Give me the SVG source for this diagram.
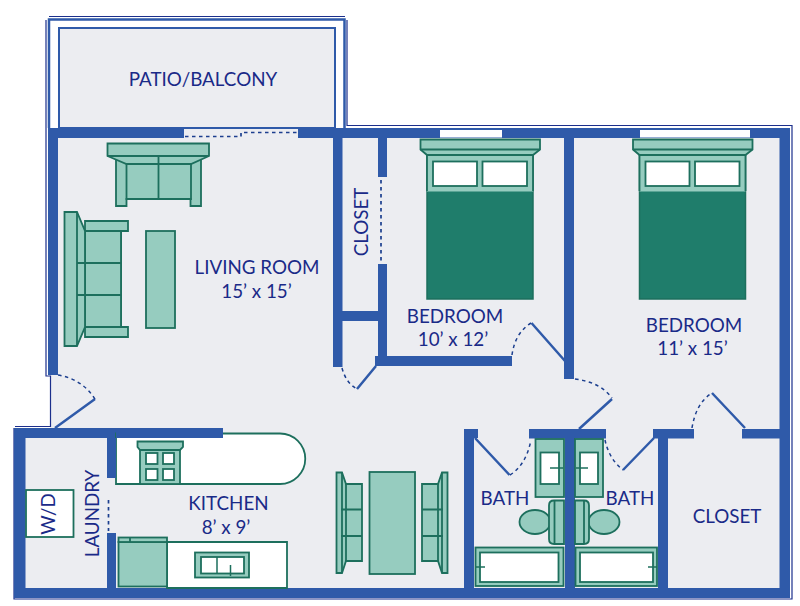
<svg xmlns="http://www.w3.org/2000/svg" width="800" height="606" viewBox="0 0 800 606">
<style>
.w{fill:#2f5aa9}
.f{fill:#96ccbf;stroke:#1d6f5d;stroke-width:1.800;stroke-linejoin:miter}
.wh{fill:#fff;stroke:#1d6f5d;stroke-width:1.800}
.l{fill:none;stroke:#1d6f5d;stroke-width:1.800}
.t{fill:none;stroke:#1c2f8c;stroke-width:1.200}
.d{fill:none;stroke:#2f5aa9;stroke-width:2.500}
.a{fill:none;stroke:#1c3f8f;stroke-width:1.500;stroke-dasharray:3.500 3.500}
text{font-family:Lato,"Open Sans","Liberation Sans",sans-serif;font-size:18.800px;fill:#1a2a88;text-anchor:middle}
</style>
<rect width="800" height="606" fill="#fff"/>
<path id="floor" d="M49 128H790V598H14V428H50V376H49Z" fill="#ecedf1"/>
<rect x="59" y="28" width="276" height="100" fill="#ecedf1" stroke="#2f5aa9" stroke-width="2"/>
<g id="outline">
<path class="t" d="M46 20V376H50.500V426.500H15M49 16.500H345M347 20V125.500H792V598M792 127V599H14V428"/>
<path d="M49 128V19.500H344.500V128" fill="none" stroke="#2f5aa9" stroke-width="2.500"/>
</g>
<g id="walls">
<rect class="w" x="48" y="128" width="136" height="10"/>
<rect class="w" x="298" y="128" width="492" height="10"/>
<rect class="w" x="48" y="128" width="10" height="247"/>
<rect class="w" x="333" y="128" width="9.500" height="239"/>
<rect class="w" x="378" y="138" width="9" height="39"/>
<rect class="w" x="378" y="264" width="9" height="94"/>
<rect class="w" x="342" y="311" width="36" height="10"/>
<rect class="w" x="375" y="356" width="137" height="10"/>
<rect class="w" x="564" y="128" width="10" height="251"/>
<rect class="w" x="779.500" y="128" width="10.500" height="470"/>
<rect class="w" x="14" y="428" width="209" height="10"/>
<rect class="w" x="14" y="428" width="11.500" height="170"/>
<rect class="w" x="14" y="588" width="776" height="10"/>
<rect class="w" x="107" y="438" width="9" height="40"/>
<rect class="w" x="107" y="533" width="9" height="57"/>
<rect class="w" x="464" y="429" width="10" height="160"/>
<rect class="w" x="464" y="429" width="14" height="9"/>
<rect class="w" x="529" y="429" width="77" height="9.500"/>
<rect class="w" x="565" y="429" width="10" height="160"/>
<rect class="w" x="653" y="429" width="41" height="9.500"/>
<rect class="w" x="658" y="429" width="10" height="160"/>
<rect class="w" x="742" y="429" width="38" height="9.500"/>
<rect x="440" y="130" width="62" height="7.500" fill="#fff"/>
<rect x="640" y="130" width="110" height="7.500" fill="#fff"/>
<path d="M439 125.500H499M647 125.500H748" fill="none" stroke="#1c2f8c" stroke-width="1.200"/>
</g>
<g id="doors">
<path class="d" d="M55 428L95 399M376 366L357 389M565 361L531.500 323M579 429L612 399M745 428L712 393M475 438L509.500 475M654 438L623 470"/>
<path class="a" d="M58 375Q82 379 95 399M342 368Q346 383 357 389M512 355Q515 333 531 323M575 379Q600 382 612 398M692 428Q696 403 712 393M510 475Q526 465 531 440M605 440Q609 459 623 470"/>
<path class="a" d="M185 136.500H241M241 136.500V132.500H298M381 180V262M108.500 500V531" style="stroke-width:1.700"/>
</g>
<g id="sofa-top">
<path class="f" d="M116 158H201V206H190.500V199H126.500V206H116Z"/>
<path class="f" d="M126.500 164H191V199H126.500Z"/>
<path class="f" d="M107.500 143.500H209V156L191 164H126.500L107.500 156Z"/>
<path class="l" d="M107.500 156H209M158.500 156V199"/>
</g>
<g id="sofa-left">
<path class="f" d="M85 221H128V231H121V327H128V337H85Z"/>
<path class="f" d="M85 231H121V327H85Z"/>
<path class="f" d="M64.500 212H77L85 231V327L77 346H64.500Z"/>
<path class="l" d="M77 212V346M77 263H121M77 295H121"/>
</g>
<rect id="coffee-table" class="f" x="146" y="231" width="29" height="97"/>
<g id="bed-1">
<rect x="427" y="155" width="106" height="144" fill="#1f7d6b" stroke="#1d6f5d" stroke-width="1.500"/>
<path d="M427 155H533V191.500H427Z" fill="#96ccbf"/>
<path class="f" d="M420.500 139.500H540V149.500L533 155H427L420.500 149.500Z"/>
<path class="l" d="M420.500 149.500H540M427 155V191M533 155V191"/>
<rect class="wh" x="433" y="161.500" width="44" height="24.500"/>
<rect class="wh" x="482.500" y="161.500" width="44.500" height="24.500"/>
</g>
<g id="bed-2" transform="translate(212.500 0)">
<rect x="427" y="155" width="106" height="144" fill="#1f7d6b" stroke="#1d6f5d" stroke-width="1.500"/>
<path d="M427 155H533V191.500H427Z" fill="#96ccbf"/>
<path class="f" d="M420.500 139.500H540V149.500L533 155H427L420.500 149.500Z"/>
<path class="l" d="M420.500 149.500H540M427 155V191M533 155V191"/>
<rect class="wh" x="433" y="161.500" width="44" height="24.500"/>
<rect class="wh" x="482.500" y="161.500" width="44.500" height="24.500"/>
</g>
<g id="kitchen-counter">
<path class="wh" d="M116 433.500H280A25 25 0 0 1 280 484H116Z"/>
<rect class="w" x="116" y="428" width="107" height="10"/>
<rect class="w" x="107" y="438" width="9" height="40"/>
<rect class="f" x="140" y="447" width="40" height="37"/>
<path class="f" d="M137.500 441.500H183V447L180 450H140L137.500 447Z"/>
<rect class="wh" x="146" y="453" width="11.500" height="11"/>
<rect class="wh" x="163" y="453" width="11" height="11"/>
<rect class="wh" x="146" y="469" width="11.500" height="11"/>
<rect class="wh" x="163" y="469" width="11" height="11"/>
</g>
<g id="kitchen-lower">
<path class="wh" d="M167 542H287V588H167Z"/>
<rect class="f" x="118.500" y="542" width="48.500" height="44.500"/>
<rect class="f" x="118.500" y="537.500" width="48.500" height="4.500"/>
<path class="l" d="M130 537.500V542"/>
<rect class="f" x="195" y="552.500" width="54" height="25"/>
<rect class="wh" x="201" y="557" width="43" height="16.500"/>
<path class="l" d="M217 557V573M230.500 565V576" style="stroke-width:1.500"/>
</g>
<rect id="wd" class="wh" x="26" y="490" width="47.500" height="47"/>
<g id="dining">
<rect class="f" x="369.500" y="472" width="45.500" height="102"/>
<path class="f" d="M336.500 472.500H342L346 484H362V561H346L342 573H336.500Z"/>
<path class="l" d="M342 472.500V573M346 484V561M341 509.500H362M341 536H362"/>
<path class="f" d="M447.500 472.500H442L438 484H422V561H438L442 573H447.500Z"/>
<path class="l" d="M442 472.500V573M438 484V561M422 509.500H443M422 536H443"/>
</g>
<g id="bath-1">
<rect class="f" x="535.500" y="439" width="28.500" height="58"/>
<rect class="wh" x="540.500" y="452.500" width="18.500" height="31.500"/>
<path class="l" d="M550 468H563" style="stroke-width:1.500"/>
<ellipse class="f" cx="535" cy="522" rx="15.500" ry="12"/>
<path class="f" d="M564 500.500H554Q549 500.500 549 505.500V539Q549 544 554 544H564Z"/>
<path class="l" d="M554.500 500.500V544"/>
<rect class="f" x="475.500" y="547.500" width="88" height="38.500"/>
<rect class="wh" x="480" y="552.500" width="78.500" height="29.500"/>
<path class="l" d="M476 567H485" style="stroke-width:1.500"/>
</g>
<g id="bath-2">
<rect class="f" x="575" y="439" width="28" height="58"/>
<rect class="wh" x="580" y="452.500" width="18" height="31.500"/>
<path class="l" d="M576 468H588" style="stroke-width:1.500"/>
<ellipse class="f" cx="604" cy="522" rx="15.500" ry="12"/>
<path class="f" d="M575 500.500H584Q589 500.500 589 505.500V539Q589 544 584 544H575Z"/>
<path class="l" d="M584 500.500V544"/>
<rect class="f" x="575.500" y="547.500" width="81.500" height="38.500"/>
<rect class="wh" x="580" y="552.500" width="73" height="29.500"/>
<path class="l" d="M648 567H657" style="stroke-width:1.500"/>
</g>
<g id="labels">
<text x="203" y="85.500">PATIO/BALCONY</text>
<text x="257" y="273.500">LIVING ROOM</text>
<text x="256.500" y="297.500">15’ x 15’</text>
<text transform="translate(368 222) rotate(-90)">CLOSET</text>
<text x="455" y="322.500">BEDROOM</text>
<text x="453" y="345.500">10’ x 12’</text>
<text x="694" y="331.500">BEDROOM</text>
<text x="692.500" y="354.500">11’ x 15’</text>
<text x="228.500" y="509.500">KITCHEN</text>
<text x="226" y="533.500">8’ x 9’</text>
<text transform="translate(99 513.500) rotate(-90)">LAUNDRY</text>
<text transform="translate(55 514) rotate(-90)">W/D</text>
<text x="505" y="504.500">BATH</text>
<text x="630" y="504.500">BATH</text>
<text x="727" y="522.500">CLOSET</text>
</g>
</svg>
